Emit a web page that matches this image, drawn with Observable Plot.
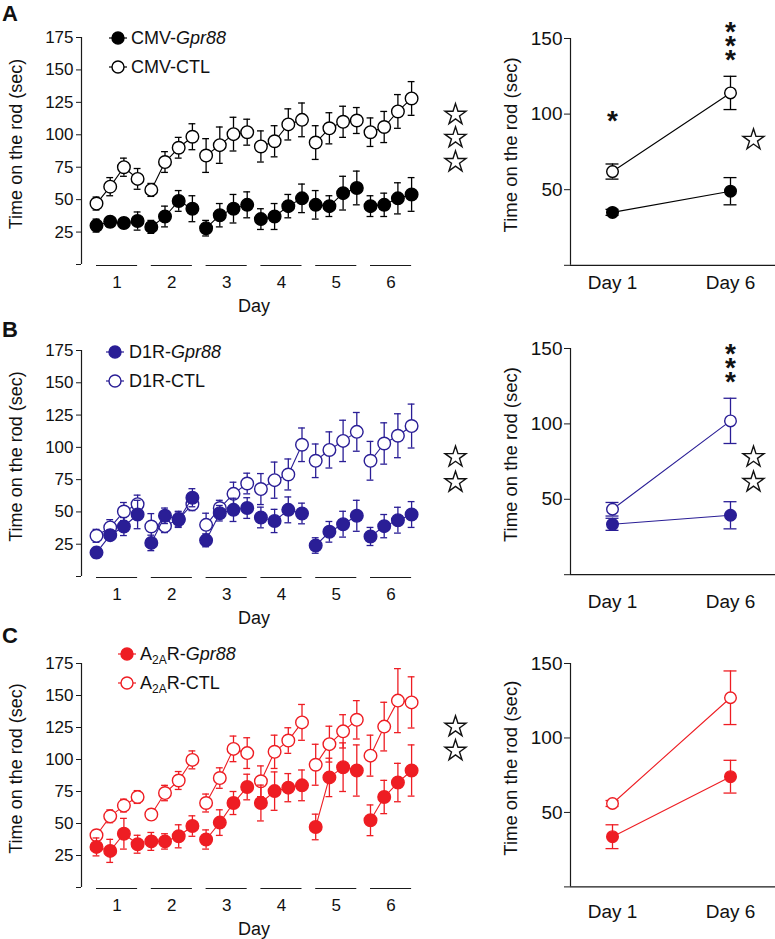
<!DOCTYPE html>
<html>
<head>
<meta charset="utf-8">
<script src="https://cdn.jsdelivr.net/npm/d3@7"></script>
<script src="https://cdn.jsdelivr.net/npm/@observablehq/plot@0.6"></script>
<style>
  body { margin: 0; background: #fff; }
  #fig { position: relative; width: 775px; height: 939px; overflow: hidden; background: #fff;
         font-family: "Liberation Sans", Arial, Helvetica, sans-serif; color: #111; }
  #fig > svg { position: absolute; }
</style>
</head>
<body>
<div id="fig"></div>
<script>
// ---------------- DATA ----------------
const days = [1, 2, 3, 4, 5, 6];
const trialsPerDay = 4;
const yTicksLeft = [0, 25, 50, 75, 100, 125, 150, 175];
const yTicksRight = [0, 50, 100, 150];
const dayNames = ["Day 1", "Day 6"];
const axisTitle = "Time on the rod (sec)";

// Panel A (CMV) – 24 trials (4 per day)
const cmvGpr88    = [30, 33, 32, 33.5,  29, 37, 49, 43,  28, 38, 43, 46,  35, 37, 45, 51,  46, 45, 55, 59,  45, 46, 51, 54];
const cmvGpr88Sem = [5, 4, 4, 7,  5, 8, 8, 10,  6, 9, 11, 10,  8, 10, 9, 11,  11, 8, 13, 13,  8, 9, 12, 13];
const cmvCtl      = [47, 60, 75, 66,  57.5, 79, 90, 98.5,  84, 92, 100.5, 102,  91, 95, 108, 111.5,  94, 105, 110, 111,  102, 106, 118, 128];
const cmvCtlSem   = [5, 7, 7, 8,  5, 8, 8, 10,  13, 14, 13, 10,  12, 12, 12, 13,  13, 12, 12, 10,  11, 12, 13, 13];
const cmvDayGpr88 = [35, 49], cmvDayGpr88Sem = [2, 9];
const cmvDayCtl   = [62, 114], cmvDayCtlSem = [5, 11];

// Panel B (D1R)
const d1rGpr88    = [18.5, 32, 38.7, 48,  26, 47, 44, 61,  28, 49, 51.6, 53,  45.7, 43, 51.6, 48.8,  24, 34.6, 40.5, 47,  31, 39, 43.6, 48];
const d1rGpr88Sem = [4, 4, 7, 11,  6, 6, 6, 7,  5, 6, 9, 8,  8, 9, 10, 8,  6, 8, 10, 12,  7, 9, 10, 10];
const d1rCtl      = [31.5, 38, 50.3, 56,  38.7, 39, 44.5, 56,  40, 53, 64, 72,  67.7, 74.6, 79, 102,  89.6, 98, 105, 112,  89.6, 103, 109, 116.5];
const d1rCtlSem   = [5, 6, 7, 7,  10, 5, 6, 5,  9, 6, 9, 8,  12, 14, 12, 13,  13, 14, 16, 15,  15, 16, 17, 17];
const d1rDayGpr88 = [33.4, 39.4], d1rDayGpr88Sem = [4, 9];
const d1rDayCtl   = [43.4, 102], d1rDayCtlSem = [4.5, 15];

// Panel C (A2AR)
const a2aGpr88    = [31.7, 28.6, 42, 33.8,  36, 36, 40, 48,  37.5, 50.7, 66, 78.5,  66, 75.3, 78, 79.8,  47.3, 86, 94, 91.4,  52.5, 70.7, 82, 91.4];
const a2aGpr88Sem = [7, 9, 12, 7,  7, 6, 9, 8,  7.5, 10, 9, 10,  14, 15, 11, 12,  10, 15, 19, 20,  12, 13, 15, 20];
const a2aCtl      = [40.8, 55.6, 64, 70.7,  57, 73.8, 83.6, 99.7,  66, 85.5, 108.3, 105,  83, 106, 114.8, 129,  95.9, 112, 122, 131,  103, 125.7, 146, 144.6];
const a2aCtlSem   = [4, 5, 5, 5,  4, 6, 7, 7,  7, 8, 10, 12,  12, 13, 10, 14,  16, 14, 13, 15,  16, 19, 25, 20];
const a2aDayGpr88 = [33.7, 74], a2aDayGpr88Sem = [8, 11];
const a2aDayCtl   = [56, 127], a2aDayCtlSem = [2, 18];

// Significance annotations (value positions; v = centre of the mark)
const starsLeftA = [115.5, 97.7, 79.1];
const starsLeftB = [92.5, 73];
const starsLeftC = [125.6, 106.9];
const asterisksRightA = [{day: 0, v: 100, text: "*"}, {day: 1, v: 150, text: "*\n*\n*"}];
const asterisksRightB = [{day: 1, v: 141.8, text: "*\n*\n*"}];
const asterisksRightC = [];
const starsRightA = [83];
const starsRightB = [78, 61.5];
const starsRightC = [];

// ---------------- DRAWING ----------------
const FONT = '"Liberation Sans", Arial, Helvetica, sans-serif';
const AXIS = "#1a1a1a";
const fig = document.getElementById("fig");

function trialRows(values, sems, series) {
  return values.map((v, i) => ({trial: i, day: days[Math.floor(i / trialsPerDay)], v, e: sems[i], series}));
}
function dayRows(values, sems, series) {
  return values.map((v, i) => ({d: i, v, e: sems[i], series}));
}

function place(el, left, top) {
  el.style.left = left + "px";
  el.style.top = top + "px";
  fig.appendChild(el);
}

function dataMarks(rows, xKey, color, r, cap, fillOpen) {
  const fill = fillOpen ? "white" : color;
  return [
    Plot.line(rows, {x: xKey, y: "v", z: d => d.series + (d.day ?? ""), stroke: color, strokeWidth: 1.1}),
    Plot.ruleX(rows, {x: xKey, y1: d => d.v - d.e, y2: d => d.v + d.e, stroke: color, strokeWidth: 1.3}),
    Plot.ruleY(rows, {y: d => d.v + d.e, x1: d => d[xKey] - cap, x2: d => d[xKey] + cap, stroke: color, strokeWidth: 1.3}),
    Plot.ruleY(rows, {y: d => d.v - d.e, x1: d => d[xKey] - cap, x2: d => d[xKey] + cap, stroke: color, strokeWidth: 1.3}),
    Plot.dot(rows, {x: xKey, y: "v", r, fill, stroke: color, strokeWidth: 1.4})
  ];
}

function leftPlot(cfg) {
  const mt = 30, mb = 62, ml = 81, W = 480;
  const pxPerTrial = 13.7;
  const x0 = -15 / pxPerTrial;
  const x1 = x0 + (W - ml) / pxPerTrial;
  const dayCenter = d => (d - 1) * trialsPerDay + (trialsPerDay - 1) / 2;
  const starX = (455 - 96) / pxPerTrial;
  const gpr = trialRows(cfg.gpr, cfg.gprSem, "gpr");
  const ctl = trialRows(cfg.ctl, cfg.ctlSem, "ctl");
  const H = cfg.bottom - cfg.top;
  const plot = Plot.plot({
    width: W, height: mt + H + mb,
    marginTop: mt, marginBottom: mb, marginLeft: ml, marginRight: 0,
    x: {domain: [x0, x1], axis: null},
    y: {domain: [0, 175], axis: null},
    style: {fontFamily: FONT, background: "transparent", overflow: "visible", color: "#111"},
    marks: [
      Plot.ruleX([x0], {y1: 0, y2: 175, stroke: AXIS, strokeWidth: 1.2}),
      Plot.axisY({ticks: yTicksLeft, tickSize: 5, tickPadding: 3, fontSize: 17, label: null,
                  tickFormat: d => d === 0 ? "" : String(d), stroke: AXIS}),
      Plot.ruleY(days, {y: 0, x1: d => dayCenter(d) - 1.5, x2: d => dayCenter(d) + 1.5, dy: 1, stroke: AXIS, strokeWidth: 1.2}),
      Plot.text(days, {x: dayCenter, y: 0, text: d => String(d), dy: 23, lineAnchor: "bottom", fontSize: 17, fill: "#111"}),
      Plot.text(["Day"], {x: (dayCenter(days[0]) + dayCenter(days[days.length - 1])) / 2, y: 0, dy: 47, lineAnchor: "bottom", fontSize: 18, fill: "#111"}),
      Plot.text([axisTitle], {frameAnchor: "left", textAnchor: "middle", lineAnchor: "middle", rotate: -90, dx: -65, dy: -7, fontSize: 18, fill: "#111"}),
      ...dataMarks(ctl, "trial", cfg.color, 6.3, 0.25, true),
      ...dataMarks(gpr, "trial", cfg.color, 6.3, 0.25, false),
      Plot.dot(cfg.stars, {x: () => starX, y: d => d, symbol: "star", r: 6.6, fill: "white", stroke: "#111", strokeWidth: 1.4})
    ]
  });
  place(plot, 0, cfg.top - mt);
}

function rightPlot(cfg) {
  const mt = 30, mb = 50, ml = 90, W = 295;
  const pxPerDay = 118;
  const x0 = -42 / pxPerDay;
  const x1 = x0 + (W - ml) / pxPerDay;
  const starX = (753 - 612) / pxPerDay;
  const gpr = dayRows(cfg.gpr, cfg.gprSem, "gpr");
  const ctl = dayRows(cfg.ctl, cfg.ctlSem, "ctl");
  const H = cfg.bottom - cfg.top;
  const single = cfg.asterisks.filter(d => !d.text.includes("\n"));
  const stacked = cfg.asterisks.filter(d => d.text.includes("\n"));
  const plot = Plot.plot({
    width: W, height: mt + H + mb,
    marginTop: mt, marginBottom: mb, marginLeft: ml, marginRight: 0,
    x: {domain: [x0, x1], axis: null},
    y: {domain: [0, 150], axis: null},
    style: {fontFamily: FONT, background: "transparent", overflow: "visible", color: "#111"},
    marks: [
      Plot.ruleX([x0], {y1: 0, y2: 150, stroke: AXIS, strokeWidth: 1.2}),
      Plot.ruleY([0], {stroke: AXIS, strokeWidth: 1.2}),
      Plot.axisY({ticks: yTicksRight, tickSize: 6, tickPadding: 2, fontSize: 19, label: null,
                  tickFormat: d => d === 0 ? "" : String(d), stroke: AXIS}),
      Plot.axisX({ticks: [0, 1], tickFormat: i => dayNames[i], tickSize: 0, tickPadding: cfg.labelPad, fontSize: 19, label: null}),
      Plot.text([axisTitle], {frameAnchor: "left", textAnchor: "middle", lineAnchor: "middle", rotate: -90, dx: -59, dy: -7, fontSize: 18.5, fill: "#111"}),
      ...dataMarks(ctl, "d", cfg.color, 5.8, 0.055, true),
      ...dataMarks(gpr, "d", cfg.color, 5.8, 0.055, false),
      Plot.text(single, {x: "day", y: "v", text: "text", fontSize: 28, fontWeight: "bold", dy: 7, fill: "#111"}),
      Plot.text(stacked, {x: "day", y: "v", text: "text", fontSize: 28, fontWeight: "bold", lineHeight: 0.5, dy: 11.7, fill: "#111"}),
      Plot.dot(cfg.stars, {x: () => starX, y: d => d, symbol: "star", r: 6.6, fill: "white", stroke: "#111", strokeWidth: 1.4})
    ]
  });
  place(plot, 480, cfg.top - mt);
}

const panels = [
  {letter: "A", letterY: 21, color: "#000000",
   legend: {x: 118, y: 38, textX: 131, prefix: "CMV-", sub: null, suffix: ""},
   left: {top: 37, bottom: 264, gpr: cmvGpr88, gprSem: cmvGpr88Sem, ctl: cmvCtl, ctlSem: cmvCtlSem, stars: starsLeftA},
   right: {top: 37.7, bottom: 264.5, gpr: cmvDayGpr88, gprSem: cmvDayGpr88Sem, ctl: cmvDayCtl, ctlSem: cmvDayCtlSem,
           asterisks: asterisksRightA, stars: starsRightA, labelPad: 10.5}},
  {letter: "B", letterY: 337, color: "#2a1e96",
   legend: {x: 115, y: 352, textX: 129, prefix: "D1R-", sub: null, suffix: ""},
   left: {top: 350, bottom: 576, gpr: d1rGpr88, gprSem: d1rGpr88Sem, ctl: d1rCtl, ctlSem: d1rCtlSem, stars: starsLeftB},
   right: {top: 348.3, bottom: 574.5, gpr: d1rDayGpr88, gprSem: d1rDayGpr88Sem, ctl: d1rDayCtl, ctlSem: d1rDayCtlSem,
           asterisks: asterisksRightB, stars: starsRightB, labelPad: 19.5}},
  {letter: "C", letterY: 643, color: "#ee1d23",
   legend: {x: 127, y: 654, textX: 140, prefix: "A", sub: "2A", suffix: "R-"},
   left: {top: 663, bottom: 887, gpr: a2aGpr88, gprSem: a2aGpr88Sem, ctl: a2aCtl, ctlSem: a2aCtlSem, stars: starsLeftC},
   right: {top: 663.3, bottom: 886.7, gpr: a2aDayGpr88, gprSem: a2aDayGpr88Sem, ctl: a2aDayCtl, ctlSem: a2aDayCtlSem,
           asterisks: asterisksRightC, stars: starsRightC, labelPad: 17.5}}
];

panels.forEach(p => {
  leftPlot({...p.left, color: p.color});
  rightPlot({...p.right, color: p.color});
});

// Overlay: panel letters and legends
const overlay = d3.create("svg").attr("width", 775).attr("height", 939)
  .style("pointer-events", "none").style("font-family", FONT);
panels.forEach(p => {
  overlay.append("text").attr("x", 2).attr("y", p.letterY).attr("font-size", 22)
    .attr("font-weight", "bold").attr("fill", "#111").text(p.letter);
  const L = p.legend;
  [["gpr", 0], ["ctl", 29]].forEach(([kind, off]) => {
    const cy = L.y + off;
    overlay.append("line").attr("x1", L.x - 9).attr("x2", L.x + 9).attr("y1", cy).attr("y2", cy)
      .attr("stroke", p.color).attr("stroke-width", 1.2);
    overlay.append("circle").attr("cx", L.x).attr("cy", cy).attr("r", 6)
      .attr("fill", kind === "gpr" ? p.color : "white").attr("stroke", p.color).attr("stroke-width", 1.4);
    const t = overlay.append("text").attr("x", L.textX).attr("y", cy + 6.4).attr("font-size", 18).attr("fill", "#111");
    t.append("tspan").text(L.prefix);
    if (L.sub) {
      t.append("tspan").attr("font-size", 12).attr("dy", 4).text(L.sub);
      t.append("tspan").attr("dy", -4).text(L.suffix);
    }
    if (kind === "gpr") t.append("tspan").attr("font-style", "italic").text("Gpr88");
    else t.append("tspan").text("CTL");
  });
});
place(overlay.node(), 0, 0);
</script>
</body>
</html>
